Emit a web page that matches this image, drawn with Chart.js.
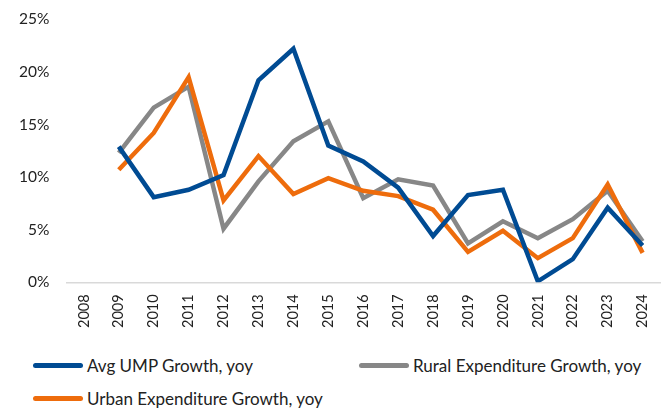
<!DOCTYPE html>
<html>
<head>
<meta charset="utf-8">
<script src="https://cdn.jsdelivr.net/npm/chart.js@4"></script>
<style>
  body { margin: 0; background: #fff; font-family: Lato, sans-serif; overflow: hidden; }
  #wrap { position: relative; width: 672px; height: 412px; overflow: hidden; }
  #chartBox { position: absolute; left: 0; top: -7px; width: 672px; height: 351px; }
  .leg { position: absolute; display: flex; align-items: center; font-size: 17px; color: #222; white-space: nowrap; }
  .sw { width: 50px; height: 5px; border-radius: 3px; margin-right: 4px; }
</style>
</head>
<body>
<div id="wrap">
  <div id="chartBox"><canvas id="c"></canvas></div>
  <div class="leg" style="left:33px; top:355px;"><span class="sw" style="background:#004b93"></span>Avg UMP Growth, yoy</div>
  <div class="leg" style="left:359px; top:355px;"><span class="sw" style="background:#878787"></span>Rural Expenditure Growth, yoy</div>
  <div class="leg" style="left:33px; top:388px;"><span class="sw" style="background:#ee6c0c"></span>Urban Expenditure Growth, yoy</div>
</div>
<script>
// categories
const years = ['2008','2009','2010','2011','2012','2013','2014','2015','2016','2017','2018','2019','2020','2021','2022','2023','2024'];

// series values (%)
const umpGrowth   = [null, 12.9, 8.1, 8.8, 10.2, 19.2, 22.2, 13.0, 11.5, 9.0, 4.4, 8.3, 8.8, 0.1, 2.2, 7.1, 3.5];
const ruralGrowth = [null, 12.3, 16.6, 18.6, 5.1, 9.6, 13.4, 15.3, 8.0, 9.8, 9.2, 3.7, 5.8, 4.2, 6.0, 8.7, 3.9];
const urbanGrowth = [null, 10.7, 14.2, 19.5, 7.8, 12.0, 8.4, 9.9, 8.7, 8.2, 6.9, 2.9, 4.9, 2.3, 4.2, 9.3, 2.8];

const ctx = document.getElementById('c').getContext('2d');
new Chart(ctx, {
  type: 'line',
  data: {
    labels: years,
    datasets: [
      { label: 'Avg UMP Growth, yoy', data: umpGrowth, borderColor: '#004b93', order: 1 },
      { label: 'Rural Expenditure Growth, yoy', data: ruralGrowth, borderColor: '#878787', order: 3 },
      { label: 'Urban Expenditure Growth, yoy', data: urbanGrowth, borderColor: '#ee6c0c', order: 2 }
    ]
  },
  options: {
    responsive: true,
    maintainAspectRatio: false,
    animation: false,
    elements: {
      line: { borderWidth: 4.5, tension: 0, fill: false },
      point: { radius: 0, hoverRadius: 0 }
    },
    layout: { padding: { top: 2, left: 2, right: 0, bottom: 4 } },
    plugins: {
      legend: { display: false },
      tooltip: { enabled: false }
    },
    scales: {
      x: {
        offset: true,
        grid: { display: false, drawTicks: false },
        border: { display: true, color: '#d9d9d9', width: 1.5 },
        ticks: {
          maxRotation: 90, minRotation: 90, padding: 12,
          color: '#222', font: { family: 'Lato', size: 14.5 }
        }
      },
      y: {
        min: 0, max: 25,
        grid: { display: false, drawTicks: false },
        border: { display: false },
        ticks: {
          stepSize: 5, padding: 17,
          color: '#222', font: { family: 'Lato', size: 15.5 },
          callback: v => v + '%'
        }
      }
    }
  }
});
</script>
</body>
</html>
